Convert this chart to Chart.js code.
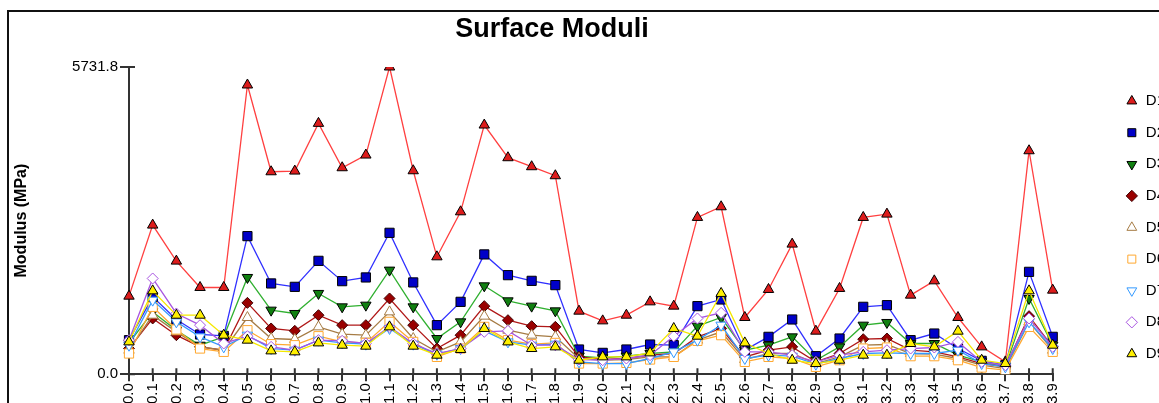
<!DOCTYPE html>
<html>
<head>
<meta charset="utf-8">
<title>Surface Moduli</title>
<script src="https://cdn.jsdelivr.net/npm/chart.js@4.4.1/dist/chart.umd.min.js"></script>
<style>
    html, body { margin: 0; padding: 0; background: #fff; overflow: hidden; }
    .frame { position: absolute; left: 7px; top: 10px; width: 1300px; height: 500px; border: 2px solid #111; }
    #chartWrap { position: absolute; left: 0; top: 0; }
</style>
</head>
<body>
<div class="frame"></div>
<div id="chartWrap"><canvas id="myChart" width="1180" height="450"></canvas></div>
<script>
// stations along the section
const stations = ['0.0', '0.1', '0.2', '0.3', '0.4', '0.5', '0.6', '0.7', '0.8', '0.9',
    '1.0', '1.1', '1.2', '1.3', '1.4', '1.5', '1.6', '1.7', '1.8', '1.9',
    '2.0', '2.1', '2.2', '2.3', '2.4', '2.5', '2.6', '2.7', '2.8', '2.9',
    '3.0', '3.1', '3.2', '3.3', '3.4', '3.5', '3.6', '3.7', '3.8', '3.9'];

// surface modulus per sensor (MPa)
const d1 = [1456, 2782, 2110, 1618, 1618, 5396, 3777, 3790, 4680, 3852,
    4089, 5731.8, 3796, 2190, 3030, 4649, 4039, 3871, 3703, 1176,
    995, 1101, 1350, 1270, 2925, 3124, 1058, 1581, 2427, 803,
    1600, 2925, 2987, 1475, 1742, 1058, 510, 230, 4169, 1568];
const d2 = [635, 1443, 1021, 741, 715, 2576, 1693, 1630, 2115, 1736,
    1805, 2638, 1712, 915, 1350, 2235, 1848, 1742, 1662, 461,
    398, 461, 554, 541, 1270, 1394, 448, 697, 1021, 336,
    666, 1257, 1288, 635, 759, 479, 249, 168, 1910, 697];
const d3 = [579, 1163, 821, 541, 697, 1805, 1195, 1133, 1507, 1257,
    1288, 1942, 1257, 666, 977, 1649, 1369, 1270, 1182, 336,
    305, 336, 386, 417, 896, 1058, 448, 541, 697, 261,
    510, 915, 965, 573, 573, 355, 230, 137, 1413, 541];
const d4 = [479, 1040, 728, 510, 448, 1331, 853, 809, 1101, 915,
    915, 1413, 915, 479, 728, 1270, 1008, 896, 883, 323,
    274, 293, 355, 386, 697, 853, 323, 448, 510, 230,
    386, 653, 666, 448, 417, 323, 199, 137, 1083, 510];
const d5 = [448, 1101, 790, 510, 448, 1058, 666, 647, 883, 747,
    728, 1163, 666, 417, 603, 1083, 821, 728, 697, 293,
    261, 274, 323, 323, 635, 790, 274, 386, 386, 199,
    323, 541, 554, 386, 373, 293, 168, 106, 977, 448];
const d6 = [386, 1257, 834, 479, 417, 821, 560, 541, 709, 603,
    584, 977, 603, 323, 479, 883, 635, 560, 584, 199,
    199, 211, 274, 323, 622, 728, 230, 323, 293, 137,
    261, 479, 498, 336, 336, 261, 124, 75, 883, 417];
const d7 = [541, 1382, 977, 697, 510, 728, 479, 448, 635, 584,
    560, 853, 560, 373, 479, 809, 603, 541, 560, 230,
    199, 199, 293, 417, 635, 915, 293, 355, 336, 187,
    293, 386, 398, 386, 386, 448, 199, 137, 977, 479];
const d8 = [635, 1786, 1133, 915, 573, 709, 510, 448, 635, 622,
    573, 883, 573, 386, 479, 790, 809, 541, 541, 274,
    261, 293, 355, 709, 1040, 1145, 417, 417, 355, 230,
    355, 417, 448, 479, 498, 603, 230, 168, 1040, 510];
const d9 = [603, 1555, 1101, 1101, 728, 635, 435, 417, 584, 541,
    523, 883, 523, 355, 461, 853, 603, 479, 510, 261,
    323, 323, 398, 853, 709, 1507, 584, 386, 261, 199,
    261, 355, 355, 573, 510, 803, 261, 199, 1555, 541];

const sensorNames = ['D1', 'D2', 'D3', 'D4', 'D5', 'D6', 'D7', 'D8', 'D9'];
const yTop = 5731.8;

Chart.defaults.font.family = "'Liberation Sans', Arial, sans-serif";
Chart.defaults.color = '#000';

// line colour, marker fill, marker edge, marker shape, rotation
const looks = [
    ['#FF4040', '#DD1C1C', '#000', 'triangle', 0],
    ['#3030FF', '#0000C8', '#000', 'rect', 0],
    ['#30B030', '#108010', '#000', 'triangle', 180],
    ['#B01818', '#990000', '#400000', 'rectRot', 0],
    ['#A67C45', '#fff', '#A67C45', 'triangle', 0],
    ['#FFA830', '#fff', '#FFA830', 'rect', 0],
    ['#3399FF', '#fff', '#3399FF', 'triangle', 180],
    ['#A855E0', '#fff', '#A855E0', 'rectRot', 0],
    ['#F5E800', '#FFF000', '#000', 'triangle', 0]
];

const seriesData = [d1, d2, d3, d4, d5, d6, d7, d8, d9];

const datasets = seriesData.map((values, i) => {
    const [line, fill, edge, shape, rot] = looks[i];
    return {
        label: sensorNames[i],
        data: values,
        borderColor: line,
        borderWidth: 1.3,
        pointStyle: shape,
        pointRotation: rot,
        pointRadius: shape === 'rect' ? 6.5 : (shape === 'rectRot' ? 5.5 : 6),
        pointBackgroundColor: fill,
        pointBorderColor: edge,
        pointBorderWidth: 1,
        tension: 0,
        fill: false,
        order: seriesData.length - 1 - i // last sensor ends up on top
    };
});

// short tick marks on the inner side of both axes, and title centring
const axisMarks = {
    id: 'axisMarks',
    afterLayout(chart) {
        const t = chart.titleBlock;
        if (t) {
            t.left = 9;
            t.right = 1095;
        }
    },
    beforeDatasetsDraw(chart) {
        const {ctx, chartArea, scales} = chart;
        ctx.save();
        ctx.strokeStyle = '#333';
        ctx.lineWidth = 2;
        ctx.beginPath();
        scales.x.ticks.forEach((t, i) => {
            const px = scales.x.getPixelForTick(i);
            ctx.moveTo(px, chartArea.bottom);
            ctx.lineTo(px, chartArea.bottom - 6);
        });
        scales.y.ticks.forEach(t => {
            const py = scales.y.getPixelForValue(t.value);
            ctx.moveTo(chartArea.left, py);
            ctx.lineTo(chartArea.left + 6, py);
        });
        ctx.stroke();
        ctx.restore();
    }
};

const ctx = document.getElementById('myChart').getContext('2d');
const myChart = new Chart(ctx, {
    type: 'line',
    data: {
        labels: stations,
        datasets: datasets
    },
    options: {
        responsive: false,
        animation: false,
        devicePixelRatio: 1,
        events: [],
        layout: {
            padding: { left: 9, top: 12, right: 5, bottom: 7 }
        },
        scales: {
            x: {
                offset: false,
                grid: { drawOnChartArea: false, tickLength: 7, color: '#333', lineWidth: 2 },
                border: { color: '#333', width: 2 },
                ticks: { autoSkip: false, minRotation: 90, maxRotation: 90, padding: 2, font: { size: 15 }, color: '#000' },
                afterFit(scale) {
                    scale.height = 68.8;
                    scale.paddingLeft = 0;
                }
            },
            y: {
                min: 0,
                max: yTop,
                afterBuildTicks(scale) {
                    scale.ticks = [{ value: 0 }, { value: yTop }];
                },
                grid: { drawOnChartArea: false, tickLength: 9, color: '#333', lineWidth: 2 },
                border: { color: '#333', width: 2 },
                ticks: {
                    padding: 2,
                    font: { size: 15 },
                    color: '#000',
                    callback: v => Number(v).toFixed(1)
                },
                title: {
                    display: true,
                    text: 'Modulus (MPa)',
                    font: { size: 16, weight: 'bold' },
                    color: '#000',
                    padding: { top: 3, bottom: 0 }
                },
                afterFit(scale) {
                    scale.width = 120;
                }
            },
            // empty strip between the plot and the legend column
            gap: {
                type: 'linear',
                position: 'right',
                display: true,
                grid: { display: false },
                border: { display: false },
                ticks: { display: false },
                afterFit(scale) {
                    scale.width = 56;
                }
            }
        },
        plugins: {
            title: {
                display: true,
                text: 'Surface Moduli',
                font: { size: 27, weight: 'bold' },
                color: '#000',
                padding: { top: 1, bottom: 21.6 }
            },
            legend: {
                display: true,
                position: 'right',
                reverse: true,
                labels: {
                    usePointStyle: true,
                    boxWidth: 13,
                    boxHeight: 8,
                    padding: 16.6,
                    font: { size: 15 },
                    color: '#000'
                }
            },
            tooltip: { enabled: false }
        }
    },
    plugins: [axisMarks]
});
</script>
</body>
</html>
